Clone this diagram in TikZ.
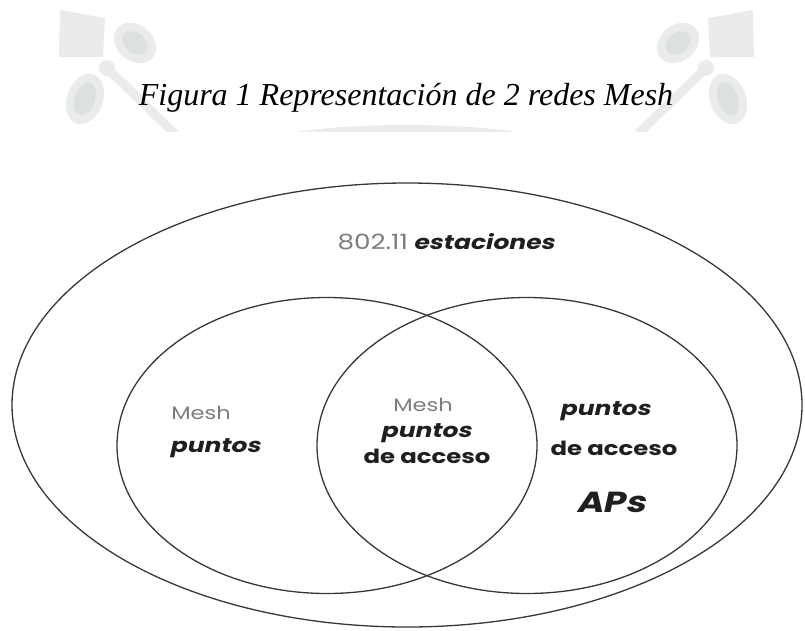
\documentclass[tikz,border=0pt]{standalone}
\usepackage{fontspec}
\setmainfont{Liberation Serif}
\newfontfamily\venn[FakeStretch=1.25]{Poppins}
\newfontfamily\vennit[FakeStretch=1.25, FakeSlant=0.22]{Poppins}

\definecolor{marca}{RGB}{233,236,233}
\definecolor{marcaosc}{RGB}{221,225,221}
\definecolor{trazo}{RGB}{55,55,55}
\definecolor{gris}{RGB}{125,125,125}

\tikzset{
  conjunto/.style={draw=trazo, line width=1.3pt},
  rotulo/.style={inner sep=0pt, anchor=base},
  suave/.style={rotulo, text=gris, font=\venn\fontsize{18}{22}\selectfont},
  fuerte/.style={rotulo, text=black!88, font=\vennit\bfseries\fontsize{20}{24}\selectfont},
  recto/.style={rotulo, text=black!88, font=\venn\bfseries\fontsize{19.5}{24}\selectfont},
}

% emblema de fondo (medio escudo, cortado abajo)
\newcommand\emblema{%
  \fill[marca] (60,10) -- (105,18) -- (103,57) -- (59,57) -- cycle;
  \fill[marca] (135,43) ellipse [x radius=23, y radius=18, rotate=-40];
  \fill[marcaosc] (135,43) ellipse [x radius=14, y radius=10, rotate=-40];
  \fill[marca] (107,68) circle (8);
  \draw[marca, line width=9pt] (107,68) -- (175,134);
  \fill[marca] (85,99) ellipse [x radius=18, y radius=26, rotate=-20];
  \fill[marcaosc] (85,99) ellipse [x radius=10, y radius=17, rotate=-20];
}

\begin{document}
\begin{tikzpicture}[x=1pt, y=-1pt]
  \useasboundingbox (0,0) rectangle (805,630);

  % marca de agua
  \begin{scope}
    \clip (0,0) rectangle (805,131);
    \emblema
    \begin{scope}[xshift=813pt, xscale=-1]
      \emblema
    \end{scope}
    \fill[marca] (406,145) ellipse [x radius=145, y radius=20];
  \end{scope}

  \node[rotulo, font=\itshape\fontsize{32}{38}\selectfont] (titulo) at (406,105)
    {Figura 1 Representación de 2 redes Mesh};

  % conjuntos
  \draw[conjunto] (407,405) ellipse [x radius=395, y radius=222];
  \draw[conjunto] (327,445.5) ellipse [x radius=210, y radius=148];
  \draw[conjunto] (527,445.5) ellipse [x radius=210, y radius=148];

  \node[fuerte] (estaciones) at (446,249)
    {\textcolor{gris}{\venn\mdseries\fontsize{21}{24}\selectfont 802.11} estaciones};

  \node[suave] (mesha) at (201,419) {Mesh};
  \node[fuerte] (puntosa) at (215,452) {puntos};

  \node[suave] (meshb) at (423,411) {Mesh};
  \node[fuerte] (puntosb) at (426,437) {puntos};
  \node[recto] (accesob) at (427,463) {de acceso};

  \node[fuerte] (puntosc) at (605,415) {puntos};
  \node[recto] (accesoc) at (614,455) {de acceso};
  \node[fuerte, font=\vennit\bfseries\fontsize{29}{34}\selectfont] (aps) at (611,512) {APs};
\end{tikzpicture}
\end{document}
